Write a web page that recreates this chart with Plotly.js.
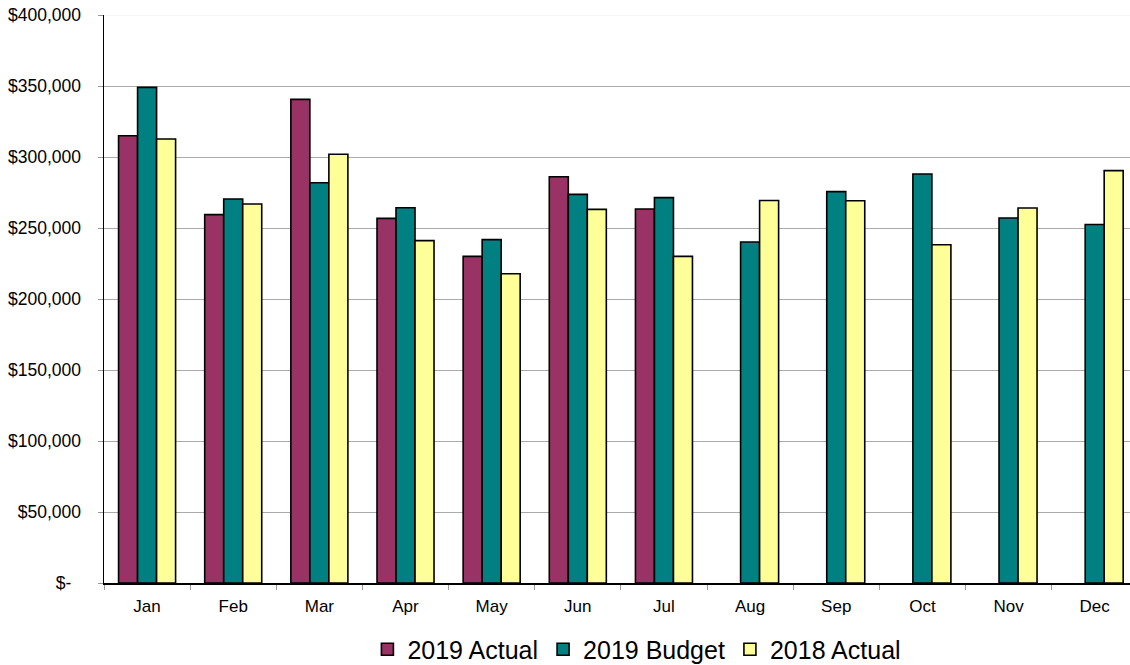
<!DOCTYPE html>
<html>
<head>
<meta charset="utf-8">
<script src="https://cdn.plot.ly/plotly-3.0.1.min.js"></script>
<style>html,body{margin:0;padding:0;background:#fff;}#chart{width:1130px;height:665px;}</style>
</head>
<body>
<div id="chart"></div>
<script>
var months = ["Jan","Feb","Mar","Apr","May","Jun","Jul","Aug","Sep","Oct","Nov","Dec"];
var actual2019 = [315000, 259400, 340600, 256800, 230000, 286100, 263400, null, null, null, null, null];
var budget2019 = [349000, 270400, 281900, 264300, 241800, 273700, 271400, 240100, 275600, 288000, 257000, 252500];
var actual2018 = [312700, 266900, 301900, 241100, 217800, 263100, 230000, 269400, 269200, 238200, 264100, 290400];
var seriesNames = ["2019 Actual", "2019 Budget", "2018 Actual"];
var yTickVals = [0, 50000, 100000, 150000, 200000, 250000, 300000, 350000, 400000];
var yTickText = ["$-\u00a0\u00a0", "$50,000", "$100,000", "$150,000", "$200,000", "$250,000", "$300,000", "$350,000", "$400,000"];

var colors = ["#993366", "#008080", "#FFFF99"];
var seriesData = [actual2019, budget2019, actual2018];
var traces = seriesData.map(function (vals, i) {
  return {
    type: "bar",
    name: seriesNames[i],
    x: months,
    y: vals,
    marker: { color: colors[i], line: { color: "#000000", width: 1.6 } },
    hoverinfo: "skip"
  };
});

var layout = {
  width: 1130,
  height: 665,
  margin: { l: 104, r: 0, t: 15, b: 82, autoexpand: false },
  paper_bgcolor: "#ffffff",
  plot_bgcolor: "#ffffff",
  font: { family: "Liberation Sans, Arial, sans-serif", color: "#000000" },
  barmode: "group",
  bargap: 0.338,
  bargroupgap: 0,
  showlegend: true,
  legend: {
    orientation: "h",
    x: 0.5194,
    xanchor: "center",
    y: -0.117,
    yanchor: "middle",
    font: { size: 25, color: "#000000" },
    traceorder: "normal",
    itemclick: false
  },
  xaxis: {
    type: "category",
    range: [-0.5, 11.41],
    showline: true,
    linecolor: "#000000",
    linewidth: 1.5,
    ticks: "outside",
    tickson: "boundaries",
    ticklen: 5,
    tickcolor: "#999999",
    tickwidth: 1,
    showgrid: false,
    zeroline: false,
    tickfont: { size: 17, color: "#000000" },
    ticklabelstandoff: 7,
    fixedrange: true
  },
  yaxis: {
    range: [0, 400000],
    tickmode: "array",
    tickvals: yTickVals,
    ticktext: yTickText,
    showline: true,
    linecolor: "#000000",
    linewidth: 1.5,
    ticks: "outside",
    ticklen: 5,
    tickcolor: "#999999",
    tickwidth: 1,
    showgrid: true,
    gridcolor: "#aaaaaa",
    gridwidth: 1,
    zeroline: false,
    tickfont: { size: 17.5, color: "#000000" },
    ticklabelstandoff: 13,
    fixedrange: true
  },
  shapes: [{
    type: "line", xref: "paper", yref: "y", x0: 0, x1: 1, y0: 400000, y1: 400000,
    line: { color: "#f3f3f3", width: 1.5 }, layer: "between"
  }]
};

Plotly.newPlot("chart", traces, layout, { displayModeBar: false, staticPlot: true });
</script>
</body>
</html>
